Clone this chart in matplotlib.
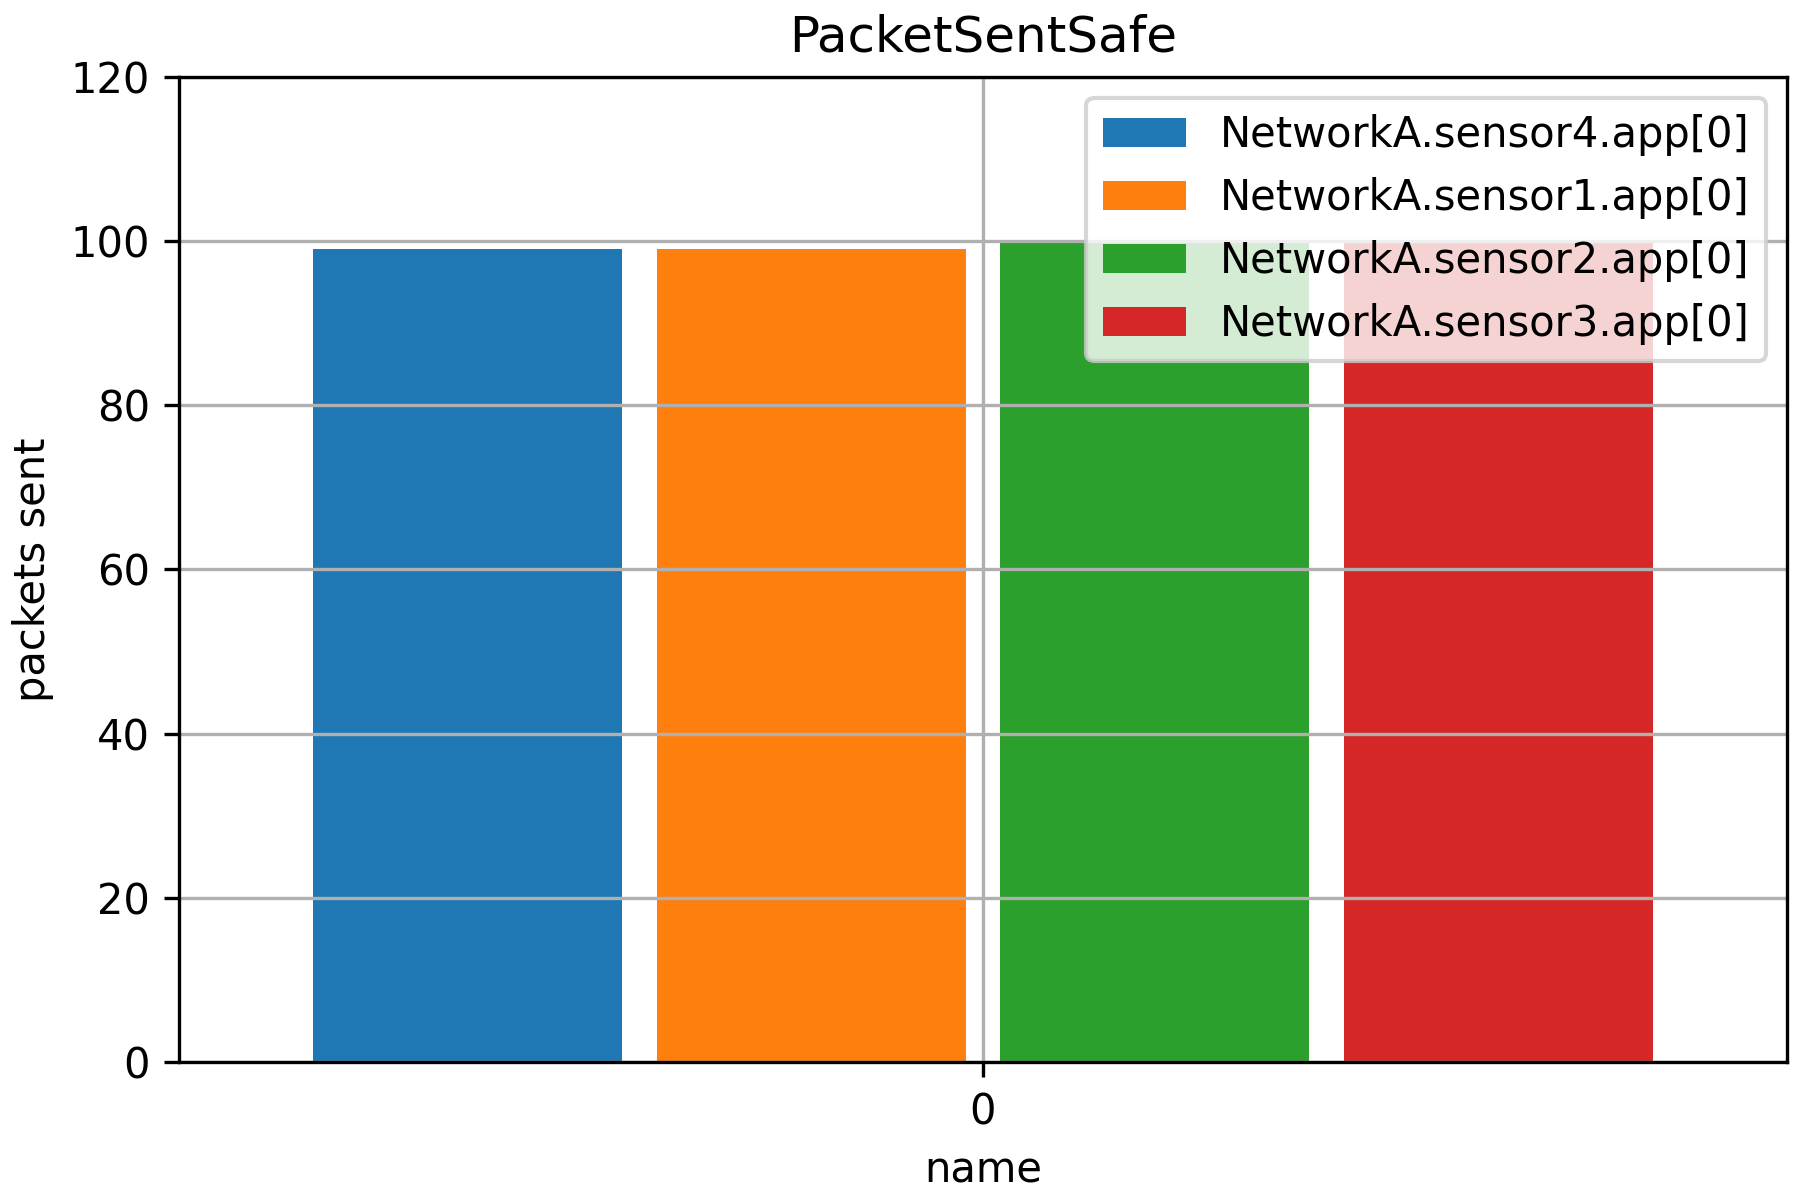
import numpy as np
import matplotlib
matplotlib.use("Agg")
import matplotlib.pyplot as plt

# one group ("0") with one bar per app
names = ["NetworkA.sensor4.app[0]", "NetworkA.sensor1.app[0]",
         "NetworkA.sensor2.app[0]", "NetworkA.sensor3.app[0]"]
packets_sent = [99, 99, 100, 100]
group_labels = ["0"]

fig, ax = plt.subplots(figsize=(6, 4), dpi=300)

n = len(names)
step = 0.5 / n
offsets = (np.arange(n) - (n - 1) / 2) * step
for i, (name, val) in enumerate(zip(names, packets_sent)):
    ax.bar(0 + offsets[i], val, width=step * 0.9, label=name, color=f"C{i}")

ax.margins(x=0.1)
ax.set_xticks([0])
ax.set_xticklabels(group_labels)
ax.set_ylim(0, 120)
ax.set_yticks(range(0, 121, 20))
ax.grid(True)
ax.set_title("PacketSentSafe")
ax.set_xlabel("name")
ax.set_ylabel("packets sent")
ax.legend(loc="upper right")

fig.subplots_adjust(left=0.0994, right=0.9928, top=0.936, bottom=0.115)
fig.savefig("out.png", dpi=300)
